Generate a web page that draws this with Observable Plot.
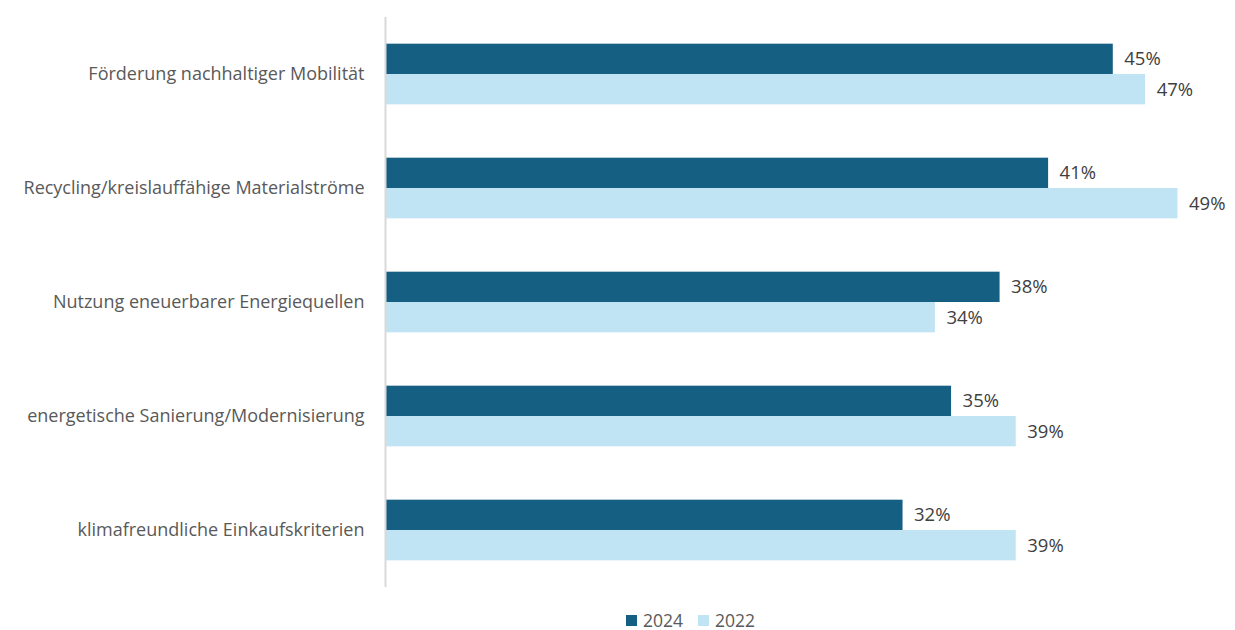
<!DOCTYPE html>
<html>
<head>
<meta charset="utf-8">
<script src="https://cdn.jsdelivr.net/npm/d3@7"></script>
<script src="https://cdn.jsdelivr.net/npm/@observablehq/plot@0.6"></script>
<style>
  body { margin: 0; background: #fff; font-family: "Open Sans", sans-serif; overflow: hidden; }
  #chart { position: relative; width: 1235px; }
  .legend { position: relative; height: 30px; font-size: 17.5px; line-height: 19px; color: #595959; }
  .legend span.item { position: absolute; top: 11px; display: flex; align-items: center; }
  .legend span.sw { display: inline-block; width: 11px; height: 11px; margin-right: 6px; }
</style>
</head>
<body>
<div id="chart"></div>
<script>
const categories = [
  "Förderung nachhaltiger Mobilität",
  "Recycling/kreislauffähige Materialströme",
  "Nutzung eneuerbarer Energiequellen",
  "energetische Sanierung/Modernisierung",
  "klimafreundliche Einkaufskriterien"
];
const series = ["2024", "2022"];
const values2024 = [45, 41, 38, 35, 32];
const values2022 = [47, 49, 34, 39, 39];
const colors = ["#156082", "#c1e4f5"];

const data = [];
categories.forEach((c, i) => {
  data.push({category: c, year: "2024", value: values2024[i]});
  data.push({category: c, year: "2022", value: values2022[i]});
});

const plot = Plot.plot({
  width: 1235,
  height: 600,
  marginLeft: 385,
  marginRight: 9,
  marginTop: 15,
  marginBottom: 12,
  style: {fontFamily: "'Open Sans', sans-serif", fontSize: "18px", color: "#595959"},
  x: {domain: [0, 52], axis: null},
  fy: {domain: categories, padding: 0, label: null, tickSize: 0, tickPadding: 21},
  y: {domain: series, axis: null, paddingInner: 0, paddingOuter: 0.88, round: false},
  color: {domain: series, range: colors},
  marks: [
    Plot.barX(data, {fy: "category", y: "year", x: "value", fill: "year"}),
    Plot.text(data, {fy: "category", y: "year", x: "value", text: d => d.value + "%", textAnchor: "start", dx: 11, fill: "#404040", fontSize: 18.5}),
    Plot.ruleX([0], {stroke: "#d9d9d9", strokeWidth: 2})
  ]
});
document.getElementById("chart").appendChild(plot);

const legend = document.createElement("div");
legend.className = "legend";
const lx = [626, 698];
series.forEach((s, i) => {
  const item = document.createElement("span");
  item.className = "item";
  item.style.left = lx[i] + "px";
  item.innerHTML = `<span class="sw" style="background:${colors[i]}"></span>${s}`;
  legend.appendChild(item);
});
document.getElementById("chart").appendChild(legend);
</script>
</body>
</html>
